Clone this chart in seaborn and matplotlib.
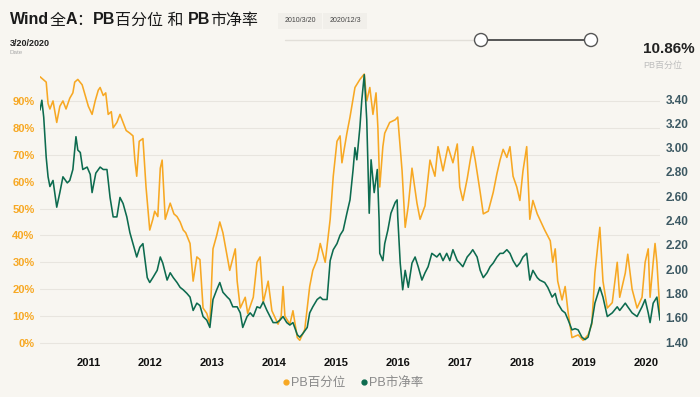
import numpy as np
import pandas as pd
import matplotlib
matplotlib.use("Agg")
import matplotlib.pyplot as plt
import seaborn as sns
from matplotlib.patches import Circle, Rectangle
from matplotlib.lines import Line2D

# PB percentile series (decimal year, %)
pct_year = [2010.22, 2010.27, 2010.32, 2010.35, 2010.38, 2010.43, 2010.46, 2010.49, 2010.54, 2010.59,
            2010.64, 2010.70, 2010.75, 2010.78, 2010.83, 2010.90, 2010.95, 2011.00, 2011.06, 2011.11,
            2011.16, 2011.19, 2011.24, 2011.28, 2011.32, 2011.37, 2011.40, 2011.46, 2011.51, 2011.56,
            2011.61, 2011.67, 2011.72, 2011.75, 2011.78, 2011.82, 2011.88, 2011.93, 2011.96, 2011.99,
            2012.04, 2012.07, 2012.12, 2012.16, 2012.19, 2012.24, 2012.28, 2012.32, 2012.38, 2012.43,
            2012.48, 2012.53, 2012.57, 2012.64, 2012.69, 2012.75, 2012.80, 2012.85, 2012.91, 2012.96,
            2013.01, 2013.07, 2013.12, 2013.17, 2013.24, 2013.28, 2013.37, 2013.40, 2013.45, 2013.53,
            2013.57, 2013.66, 2013.72, 2013.77, 2013.82, 2013.90, 2013.96, 2014.06, 2014.11, 2014.14,
            2014.17, 2014.25, 2014.30, 2014.37, 2014.41, 2014.49, 2014.57, 2014.62, 2014.69, 2014.74,
            2014.82, 2014.90, 2014.95, 2015.01, 2015.06, 2015.09, 2015.17, 2015.22, 2015.30, 2015.38,
            2015.45, 2015.49, 2015.54, 2015.59, 2015.64, 2015.67, 2015.70, 2015.75, 2015.78, 2015.86,
            2015.95, 2015.99, 2016.06, 2016.11, 2016.16, 2016.22, 2016.30, 2016.35, 2016.43, 2016.51,
            2016.59, 2016.64, 2016.72, 2016.80, 2016.88, 2016.95, 2016.99, 2017.04, 2017.11, 2017.16,
            2017.20, 2017.24, 2017.32, 2017.37, 2017.45, 2017.53, 2017.59, 2017.64, 2017.69, 2017.75,
            2017.80, 2017.85, 2017.91, 2017.96, 2018.01, 2018.07, 2018.12, 2018.17, 2018.24, 2018.28,
            2018.36, 2018.45, 2018.49, 2018.53, 2018.57, 2018.64, 2018.69, 2018.74, 2018.80, 2018.90,
            2018.98, 2019.06, 2019.12, 2019.17, 2019.22, 2019.25, 2019.30, 2019.37, 2019.45, 2019.53,
            2019.57, 2019.66, 2019.70, 2019.77, 2019.85, 2019.93, 2019.98, 2020.03, 2020.06, 2020.11,
            2020.14, 2020.17, 2020.22]
pct_value = [99, 98, 97, 89, 87, 90, 86, 82, 88, 90,
             87, 91, 93, 97, 98, 96, 92, 88, 85, 90,
             94, 95, 92, 93, 85, 86, 80, 82, 85, 82,
             79, 78, 77, 68, 62, 75, 76, 58, 50, 42,
             46, 49, 47, 65, 68, 46, 49, 52, 48, 47,
             45, 42, 41, 37, 23, 32, 31, 13, 11, 7,
             35, 40, 45, 41, 32, 27, 35, 23, 13, 17,
             11, 17, 30, 32, 15, 23, 12, 7, 10, 21,
             10, 7, 12, 2, 1, 5, 21, 27, 31, 37,
             30, 46, 62, 75, 77, 67, 78, 84, 95, 98,
             100, 90, 95, 85, 93, 80, 58, 73, 78, 82,
             83, 84, 64, 43, 51, 65, 52, 46, 51, 68,
             62, 73, 64, 73, 67, 74, 58, 53, 61, 68,
             73, 68, 56, 48, 49, 56, 63, 68, 72, 69,
             73, 62, 58, 53, 64, 73, 46, 53, 48, 46,
             42, 38, 30, 35, 23, 16, 21, 11, 2, 3,
             1, 3, 7, 26, 37, 43, 23, 13, 15, 30,
             17, 26, 33, 20, 13, 17, 30, 35, 17, 30,
             37, 30, 10.86]

# PB ratio series (decimal year, PB)
pb_year = [2010.22, 2010.25, 2010.28, 2010.32, 2010.35, 2010.38, 2010.43, 2010.49, 2010.54, 2010.59,
           2010.66, 2010.70, 2010.75, 2010.80, 2010.83, 2010.87, 2010.91, 2010.98, 2011.03, 2011.06,
           2011.12, 2011.19, 2011.24, 2011.30, 2011.35, 2011.40, 2011.46, 2011.51, 2011.56, 2011.62,
           2011.67, 2011.72, 2011.78, 2011.83, 2011.88, 2011.95, 2011.99, 2012.04, 2012.11, 2012.16,
           2012.20, 2012.27, 2012.32, 2012.37, 2012.43, 2012.48, 2012.53, 2012.59, 2012.64, 2012.69,
           2012.75, 2012.80, 2012.85, 2012.91, 2012.96, 2013.01, 2013.07, 2013.12, 2013.17, 2013.24,
           2013.28, 2013.33, 2013.40, 2013.45, 2013.49, 2013.56, 2013.61, 2013.66, 2013.72, 2013.77,
           2013.82, 2013.88, 2013.93, 2013.98, 2014.04, 2014.09, 2014.14, 2014.20, 2014.25, 2014.30,
           2014.37, 2014.41, 2014.46, 2014.53, 2014.57, 2014.62, 2014.69, 2014.74, 2014.78, 2014.85,
           2014.90, 2014.95, 2015.01, 2015.06, 2015.11, 2015.17, 2015.22, 2015.27, 2015.30, 2015.33,
           2015.38, 2015.41, 2015.45, 2015.49, 2015.53, 2015.56, 2015.61, 2015.66, 2015.69, 2015.70,
           2015.75, 2015.78, 2015.83, 2015.88, 2015.95, 2015.98, 2015.99, 2016.03, 2016.07, 2016.11,
           2016.16, 2016.22, 2016.27, 2016.32, 2016.38, 2016.43, 2016.48, 2016.54, 2016.62, 2016.67,
           2016.72, 2016.78, 2016.83, 2016.88, 2016.95, 2016.99, 2017.04, 2017.11, 2017.16, 2017.20,
           2017.27, 2017.32, 2017.37, 2017.43, 2017.48, 2017.53, 2017.59, 2017.64, 2017.69, 2017.75,
           2017.80, 2017.85, 2017.91, 2017.96, 2018.01, 2018.07, 2018.12, 2018.17, 2018.24, 2018.28,
           2018.36, 2018.41, 2018.48, 2018.53, 2018.57, 2018.64, 2018.69, 2018.74, 2018.80, 2018.85,
           2018.90, 2018.96, 2019.01, 2019.06, 2019.12, 2019.17, 2019.22, 2019.25, 2019.30, 2019.37,
           2019.45, 2019.53, 2019.57, 2019.66, 2019.70, 2019.77, 2019.85, 2019.93, 2019.98, 2020.03,
           2020.06, 2020.11, 2020.17, 2020.22]
pb_value = [3.31, 3.39, 3.25, 2.92, 2.76, 2.68, 2.73, 2.51, 2.63, 2.76,
            2.71, 2.73, 2.82, 3.09, 2.98, 2.96, 2.82, 2.84, 2.78, 2.63,
            2.79, 2.84, 2.82, 2.82, 2.59, 2.43, 2.43, 2.59, 2.54, 2.43,
            2.30, 2.21, 2.10, 2.18, 2.21, 1.93, 1.89, 1.93, 1.99, 2.10,
            2.05, 1.91, 1.97, 1.93, 1.89, 1.85, 1.83, 1.80, 1.77, 1.66,
            1.72, 1.70, 1.61, 1.58, 1.52, 1.75, 1.83, 1.89, 1.81, 1.77,
            1.75, 1.69, 1.69, 1.64, 1.52, 1.61, 1.64, 1.61, 1.69, 1.68,
            1.73, 1.66, 1.61, 1.56, 1.56, 1.58, 1.61, 1.56, 1.54, 1.56,
            1.46, 1.44, 1.47, 1.52, 1.64, 1.69, 1.75, 1.77, 1.75, 1.75,
            2.07, 2.16, 2.21, 2.28, 2.32, 2.46, 2.57, 2.82, 3.00, 2.90,
            3.17, 3.39, 3.60, 3.23, 2.46, 2.90, 2.63, 2.82, 2.40, 2.13,
            2.07, 2.21, 2.32, 2.46, 2.55, 2.57, 2.43, 2.05, 1.83, 1.99,
            1.85, 2.05, 2.10, 2.02, 1.91, 1.97, 2.02, 2.13, 2.10, 2.13,
            2.07, 2.13, 2.07, 2.16, 2.07, 2.05, 2.02, 2.10, 2.13, 2.16,
            2.10, 1.99, 1.93, 1.97, 2.02, 2.05, 2.10, 2.13, 2.13, 2.16,
            2.13, 2.07, 2.02, 2.05, 2.10, 2.13, 1.91, 1.99, 1.93, 1.91,
            1.89, 1.85, 1.77, 1.80, 1.72, 1.66, 1.64, 1.58, 1.50, 1.51,
            1.50, 1.44, 1.42, 1.44, 1.56, 1.72, 1.80, 1.85, 1.77, 1.61,
            1.64, 1.69, 1.66, 1.72, 1.69, 1.64, 1.61, 1.69, 1.75, 1.64,
            1.56, 1.72, 1.77, 1.58]

years = list(range(2011, 2021))
pct_ticks = list(range(0, 100, 10))
pb_ticks = [1.4, 1.6, 1.8, 2.0, 2.2, 2.4, 2.6, 2.8, 3.0, 3.2, 3.4]
series_names = ["PB百分位", "PB市净率"]

BG = "#f8f6f1"
ORANGE = "#f7a823"
GREEN = "#0d6b4f"
SLATE = "#3d5963"

sns.set_theme(style="white")
plt.rcParams["font.family"] = ["Liberation Sans", "Noto Sans CJK SC", "DejaVu Sans"]

pct_df = pd.DataFrame({"year": pct_year, "value": pct_value})
pb_df = pd.DataFrame({"year": pb_year, "value": pb_value})

fig = plt.figure(figsize=(7, 3.97), dpi=100, facecolor=BG)
ax = fig.add_axes([40 / 700, 1 - 352 / 397, 620 / 700, 282 / 397])
ax.set_facecolor(BG)
ax2 = ax.twinx()
ax2.patch.set_visible(False)

sns.lineplot(data=pct_df, x="year", y="value", ax=ax, color=ORANGE, linewidth=1.15)
sns.lineplot(data=pb_df, x="year", y="value", ax=ax2, color=GREEN, linewidth=1.15)

ax.set_xlim(2010.22, 2020.22)
ax.set_ylim(-3.35, 101.5)
ax2.set_ylim(1.318, 3.639)

ax.set_xticks(years)
ax.set_xticklabels([str(y) for y in years], fontweight="bold", fontsize=8, color="#111")
ax.set_yticks(pct_ticks)
ax.set_yticklabels([f"{v}%" for v in pct_ticks], fontweight="bold", fontsize=8, color=ORANGE)
ax2.set_yticks(pb_ticks)
ax2.set_yticklabels([f"{v:.2f}" for v in pb_ticks], fontweight="bold", fontsize=8.5, color=SLATE)

ax.tick_params(axis="both", length=0)
ax.tick_params(axis="x", pad=4)
ax.tick_params(axis="y", pad=4)
ax2.tick_params(axis="y", length=0, pad=4)
ax.set_xlabel("")
ax.set_ylabel("")
ax2.set_ylabel("")
ax.yaxis.grid(True, color="#e8e5df", linewidth=0.8)
ax.xaxis.grid(False)
for a in (ax, ax2):
    for s in a.spines.values():
        s.set_visible(False)

# overlay in pixel coordinates for header decorations
ov = fig.add_axes([0, 0, 1, 1])
ov.set_xlim(0, 700)
ov.set_ylim(397, 0)
ov.axis("off")
ov.patch.set_visible(False)

renderer = fig.canvas.get_renderer()
pieces = [("Wind", "bold"), ("全", "normal"), ("A", "bold"), ("：", "normal"),
          ("PB", "bold"), ("百分位 和 ", "normal"), ("PB", "bold"), ("市净率", "normal")]
x = 10
for txt, w in pieces:
    t = ov.text(x, 20, txt, fontsize=11.5, fontweight=w, va="center", ha="left", color="#1a1a1a")
    bb = t.get_window_extent(renderer)
    x += bb.width

ov.text(10, 43, "3/20/2020", fontsize=6.5, fontweight="bold", va="center", color="#222")
ov.text(10, 53, "Date", fontsize=4.5, va="center", color="#aaa")

ov.add_patch(Rectangle((278, 13), 44, 16, facecolor="#f1efea", edgecolor="none"))
ov.add_patch(Rectangle((323, 13), 44, 16, facecolor="#f1efea", edgecolor="none"))
ov.text(300, 21, "2010/3/20", fontsize=5, ha="center", va="center", color="#444")
ov.text(345, 21, "2020/12/3", fontsize=5, ha="center", va="center", color="#444")

ov.plot([285, 481], [40, 40], color="#e2dfd9", lw=1)
ov.plot([481, 591], [40, 40], color="#555", lw=1.4)
for cx in (481, 591):
    ov.add_patch(Circle((cx, 40), 6.5, facecolor="white", edgecolor="#555", lw=1, zorder=5))

ov.text(643, 49, "10.86%", fontsize=11, fontweight="bold", va="center", ha="left", color="#222")
ov.text(643, 65, "PB百分位", fontsize=6.5, va="center", ha="left", color="#bdbdbd")

handles = [Line2D([], [], marker="o", ls="", color=ORANGE, ms=3.5, label=series_names[0]),
           Line2D([], [], marker="o", ls="", color=GREEN, ms=3.5, label=series_names[1])]
fig.legend(handles=handles, loc="center", bbox_to_anchor=(352 / 700, 1 - 383 / 397), ncol=2,
           frameon=False, handletextpad=0.0, columnspacing=1.0, labelcolor="#8a8a8a",
           prop={"size": 9}, handlelength=0.9)

fig.savefig("out.png", dpi=100, facecolor=BG)
